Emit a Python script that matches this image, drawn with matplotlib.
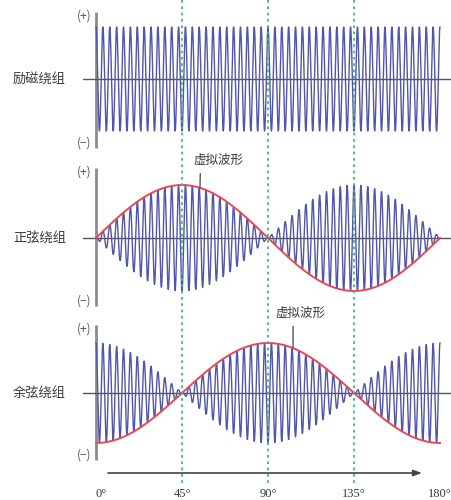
import numpy as np
import matplotlib
matplotlib.use('Agg')
import matplotlib.pyplot as plt

plt.rcParams['font.family'] = ['Noto Sans CJK SC', 'DejaVu Sans']

# chart content
angle_ticks = [0, 45, 90, 135, 180]
angle_labels = ['0°', '45°', '90°', '135°', '180°']
winding_names = ['励磁绕组', '正弦绕组', '余弦绕组']
envelope_name = '虚拟波形'
carrier_cycles = 50
theta = np.linspace(0, 180, 3001)

excite = np.cos(2 * np.pi * carrier_cycles * theta / 180)
sin_env = np.sin(np.radians(2 * theta))
cos_env = -np.cos(np.radians(2 * theta))
sin_wave = sin_env * excite
cos_wave = -cos_env * excite

BLUE = '#5156a8'
RED = '#e84a55'
GREEN = '#3dba8c'
AXIS = '#8c8c8c'
TXT = '#3a3a3a'

W, H = 452, 500
fig = plt.figure(figsize=(W / 100, H / 100), dpi=100)

# pixel layout helpers
x0_px, ppd = 96, 344 / 180
left_px = 83


def panel(center, amp):
    top = center - 1.5 * amp
    ax = fig.add_axes([left_px / W, 1 - (top + 3 * amp) / H, (W - left_px) / W, 3 * amp / H])
    ax.set_xlim((left_px - x0_px) / ppd, (W - x0_px) / ppd)
    ax.set_ylim(-1.5, 1.5)
    ax.axis('off')
    return ax


panels = [
    (79, 52, 12, 148),
    (238, 53, 168, 306),
    (393, 50, 325, 460),
]
axes = []
for (center, amp, vtop, vbot), name in zip(panels, winding_names):
    ax = panel(center, amp)
    yt = (center - vtop) / amp
    yb = -(vbot - center) / amp
    ax.plot([0, 0], [yt, yb], color=AXIS, lw=2, solid_capstyle='butt', zorder=1)
    ax.axhline(0, color='#555555', lw=1, zorder=1)
    ax.text(-2.5, yt - 0.08, '(+)', ha='right', va='center', fontsize=8.5, color='#555555')
    ax.text(-2.5, yb + 0.1, '(−)', ha='right', va='center', fontsize=8.5, color='#555555')
    fig.text(66 / W, 1 - center / H, name, ha='right', va='center', fontsize=9.5, color=TXT)
    axes.append(ax)

axes[0].plot(theta, excite, color=BLUE, lw=1.0, zorder=2)

axes[1].plot(theta, sin_wave, color=BLUE, lw=1.0, zorder=2)
axes[1].plot(theta, sin_env, color=RED, lw=1.4, zorder=3)
a1 = 54.4
axes[1].annotate(envelope_name, xy=(a1, np.interp(a1, theta, sin_env)), xytext=(63.8, 1.47),
                 ha='center', va='center', fontsize=9, color=TXT,
                 arrowprops=dict(arrowstyle='-', color='#555555', lw=1,
                                 relpos=(0.15, 0), shrinkA=3, shrinkB=0))

axes[2].plot(theta, cos_wave, color=BLUE, lw=1.0, zorder=2)
axes[2].plot(theta, cos_env, color=RED, lw=1.4, zorder=3)
a2 = 103.1
axes[2].annotate(envelope_name, xy=(a2, np.interp(a2, theta, cos_env)), xytext=(106.8, 1.6),
                 ha='center', va='center', fontsize=9, color=TXT,
                 arrowprops=dict(arrowstyle='-', color='#555555', lw=1,
                                 relpos=(0.36, 0), shrinkA=3, shrinkB=0))

# overlay: guide lines, angle axis
ov = fig.add_axes([0, 0, 1, 1])
ov.set_xlim(-x0_px / ppd, (W - x0_px) / ppd)
ov.set_ylim(H, 0)
ov.axis('off')
ov.patch.set_alpha(0)
ov.vlines(angle_ticks[1:-1], 0, 486, color=GREEN, lw=1.3, linestyles=(0, (1.5, 2)), zorder=5)
ov.annotate('', xy=(170.6, 473), xytext=(6.3, 473),
            arrowprops=dict(arrowstyle='-|>,head_length=0.5,head_width=0.18',
                            color='#444444', lw=1.2, shrinkA=0, shrinkB=0))
for a, lab in zip(angle_ticks, angle_labels):
    ov.text(a + (2.5 if a == 0 else 0), 494, lab, ha='center', va='center', fontsize=9,
            family='Liberation Serif', color=TXT)

fig.savefig('out.png', dpi=100)
